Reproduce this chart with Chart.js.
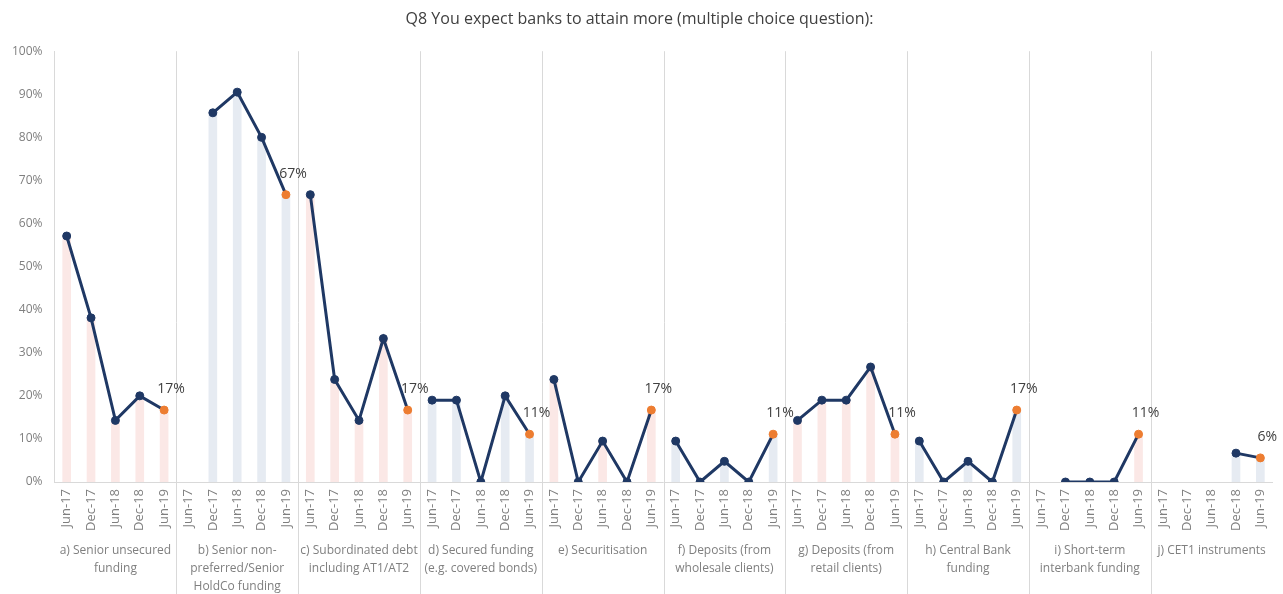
<!DOCTYPE html>
<html>
<head>
<meta charset="utf-8">
<script src="https://cdn.jsdelivr.net/npm/chart.js@4/dist/chart.umd.min.js"></script>
<style>
  html, body { margin: 0; padding: 0; background: #fff; }
  #wrap { width: 1283px; height: 594px; position: relative; }
</style>
</head>
<body>
<div id="wrap"><canvas id="chart"></canvas></div>
<script>
// ── Data ──────────────────────────────────────────────────────
const periods = ['Jun-17', 'Dec-17', 'Jun-18', 'Dec-18', 'Jun-19'];

const groupLabels = [
  ['a) Senior unsecured', 'funding'],
  ['b) Senior non-', 'preferred/Senior', 'HoldCo funding'],
  ['c) Subordinated debt', 'including AT1/AT2'],
  ['d) Secured funding', '(e.g. covered bonds)'],
  ['e) Securitisation'],
  ['f) Deposits (from', 'wholesale clients)'],
  ['g) Deposits (from', 'retail clients)'],
  ['h) Central Bank', 'funding'],
  ['i) Short-term', 'interbank funding'],
  ['j) CET1 instruments']
];

// one row per group, values per period (%)
const seniorUnsecured = [57.1, 38.1, 14.3, 20.0, 16.7];
const seniorNonPreferred = [null, 85.7, 90.5, 80.0, 66.7];
const subordinated = [66.7, 23.8, 14.3, 33.3, 16.7];
const securedFunding = [19.0, 19.0, 0, 20.0, 11.1];
const securitisation = [23.8, 0, 9.5, 0, 16.7];
const depositsWholesale = [9.5, 0, 4.8, 0, 11.1];
const depositsRetail = [14.3, 19.0, 19.0, 26.7, 11.1];
const centralBank = [9.5, 0, 4.8, 0, 16.7];
const interbank = [null, 0, 0, 0, 11.1];
const cet1 = [null, null, null, 6.7, 5.6];

const yTicks = [0, 10, 20, 30, 40, 50, 60, 70, 80, 90, 100];

const groups = [seniorUnsecured, seniorNonPreferred, subordinated, securedFunding,
  securitisation, depositsWholesale, depositsRetail, centralBank, interbank, cet1];

// ── Build flat series ─────────────────────────────────────────
const labels = groups.flatMap(() => periods);
const values = groups.flat();
const barColors = labels.map((_, i) => Math.floor(i / 5) % 2 === 0 ? '#fbe8e6' : '#e6ebf2');
const pointColors = labels.map((_, i) => i % 5 === 4 ? '#ed7d31' : '#1f3864');

const NAVY = '#1f3864';
const GREY = '#7f7f7f';
const FONT = "'Open Sans', 'Liberation Sans', sans-serif";

// ── Plugins ───────────────────────────────────────────────────
const separators = {
  id: 'separators',
  beforeDatasetsDraw(chart) {
    const x = chart.scales.x;
    const { ctx, chartArea } = chart;
    ctx.save();
    ctx.strokeStyle = '#d9d9d9';
    ctx.lineWidth = 1;
    for (let g = 1; g < groups.length; g++) {
      const px = Math.round((x.getPixelForValue(g * 5 - 1) + x.getPixelForValue(g * 5)) / 2) + 0.5;
      ctx.beginPath();
      ctx.moveTo(px, chartArea.top);
      ctx.lineTo(px, chart.height);
      ctx.stroke();
    }
    ctx.restore();
  }
};

const lastLabels = {
  id: 'lastLabels',
  afterDatasetsDraw(chart) {
    const meta = chart.getDatasetMeta(1);
    const { ctx } = chart;
    ctx.save();
    ctx.fillStyle = '#404040';
    ctx.font = `14px ${FONT}`;
    ctx.textAlign = 'center';
    ctx.textBaseline = 'middle';
    values.forEach((v, i) => {
      if (i % 5 !== 4 || v == null) return;
      const pt = meta.data[i];
      ctx.fillText(Math.round(v) + '%', pt.x + 7, pt.y - 21);
    });
    ctx.restore();
  }
};

// ── Chart ─────────────────────────────────────────────────────
new Chart(document.getElementById('chart'), {
  type: 'bar',
  data: {
    labels,
    datasets: [
      {
        type: 'bar',
        data: values,
        backgroundColor: barColors,
        barThickness: 8,
        order: 2
      },
      {
        type: 'line',
        data: values,
        borderColor: NAVY,
        borderWidth: 3,
        pointRadius: 4,
        pointBorderWidth: 1,
        pointBackgroundColor: pointColors,
        pointBorderColor: pointColors,
        spanGaps: false,
        segment: {
          borderColor: c => c.p0DataIndex % 5 === 4 ? 'transparent' : NAVY
        },
        order: 1
      }
    ]
  },
  options: {
    responsive: true,
    maintainAspectRatio: false,
    animation: false,
    layout: { padding: { left: 0, right: 4, top: 0, bottom: 0 } },
    plugins: {
      legend: { display: false },
      tooltip: { enabled: false },
      title: {
        display: true,
        text: 'Q8 You expect banks to attain more (multiple choice question):',
        color: '#404040',
        font: { family: FONT, size: 16, weight: 'normal' },
        padding: { top: 10, bottom: 22 }
      }
    },
    scales: {
      y: {
        min: 0,
        max: 100,
        afterBuildTicks: s => { s.ticks = yTicks.map(v => ({ value: v })); },
        ticks: {
          color: GREY,
          font: { family: FONT, size: 12 },
          padding: 12,
          callback: v => v + '%'
        },
        grid: { display: false, drawTicks: false },
        border: { color: '#d9d9d9' }
      },
      x: {
        afterFit: s => { s.height = 60; },
        ticks: {
          color: GREY,
          font: { family: FONT, size: 13 },
          maxRotation: 90,
          minRotation: 90,
          autoSkip: false,
          padding: 7
        },
        grid: { display: false, drawTicks: false },
        border: { color: '#d9d9d9' }
      },
      x2: {
        type: 'category',
        position: 'bottom',
        labels: groupLabels,
        offset: true,
        afterFit: s => { s.height = 52; },
        ticks: {
          color: GREY,
          font: { family: FONT, size: 12, lineHeight: 1.5 },
          maxRotation: 0,
          minRotation: 0,
          autoSkip: false,
          padding: 0
        },
        grid: { display: false, drawTicks: false },
        border: { display: false }
      }
    }
  },
  plugins: [separators, lastLabels]
});
</script>
</body>
</html>
